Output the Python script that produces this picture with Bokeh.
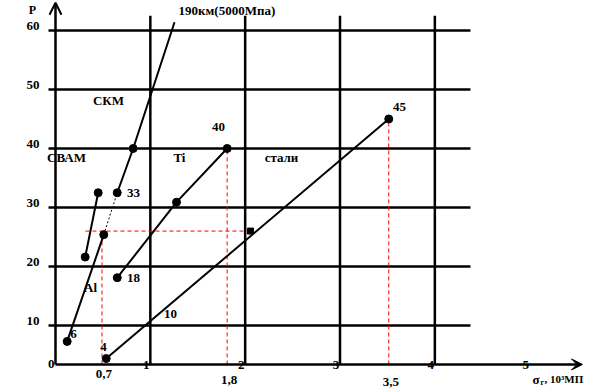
from bokeh.plotting import figure
from bokeh.models import Range1d, Arrow, VeeHead, OpenHead
from bokeh.embed import file_html
from bokeh.resources import INLINE
from bokeh.core.properties import value

# ---------------- data ----------------
y_ticks = [10, 20, 30, 40, 50, 60]
y_tick_labels = ["10", "20", "30", "40", "50", "60"]
x_ticks = [1, 2, 3, 4, 5]
x_tick_labels = ["1", "2", "3", "4", "5"]
origin_label = "0"
x_axis_level = 3.4          # P level where the σ axis is drawn (labelled "0")
grid_x_ticks = [1, 2, 3, 4]

# material lines (x = σ, 10^3 MPa ; y = P)
ckm_x = [0.651, 0.819, 1.255]
ckm_y = [32.5, 40.0, 61.4]
ti_x = [0.651, 1.276, 1.810]
ti_y = [18.1, 30.9, 40.0]
steel_x = [0.535, 3.514]
steel_y = [4.4, 45.0]
al_x = [0.123, 0.509]
al_y = [7.3, 25.4]
svam_x = [0.313, 0.450]
svam_y = [21.6, 32.5]
link_x = [0.509, 0.651]
link_y = [25.4, 32.5]
steel_mark_x = [2.056]
steel_mark_y = [26.0]

# marked points
dot_x = [0.819, 0.651, 0.651, 1.276, 1.810, 0.535, 3.514, 0.123, 0.509, 0.313, 0.450]
dot_y = [40.0, 32.5, 18.1, 30.9, 40.0, 4.4, 45.0, 7.3, 25.4, 21.6, 32.5]

# red reference lines
ref_x = [0.49, 1.81, 3.514]
ref_top = [26.0, 40.0, 45.0]
ref_labels = ["0,7", "1,8", "3,5"]
ref_label_y = [1.7, 0.7, 0.5]
href_x0 = [0.316]
href_x1 = [2.056]
href_y = [26.0]

# annotation texts
note_text = ["СКМ", "СВАМ", "Ti", "стали", "40", "45", "33", "18", "Al", "6", "10", "4"]
note_x = [0.559, 0.116, 1.307, 2.383, 1.719, 3.627, 0.822, 0.822, 0.369, 0.190, 1.213, 0.506]
note_y = [48.1, 38.5, 38.5, 38.5, 43.7, 47.0, 32.5, 18.1, 16.4, 8.5, 11.9, 6.4]
curve_label = "190км(5000Мпа)"
curve_label_x = 1.297
curve_label_y = 63.4
y_title = "P"
x_title_main = "σ"
x_title_sub = "г"
x_title_rest = ", 10³МП"

FONT = value("'Liberation Serif', 'Times New Roman', 'DejaVu Serif', serif")

p = figure(width=593, height=389, output_backend="svg", toolbar_location=None,
           x_range=Range1d(-0.580, 5.673), y_range=Range1d(-0.847, 65.08),
           min_border=0, outline_line_color=None)
p.axis.visible = False
p.grid.visible = False
p.background_fill_color = "white"
p.border_fill_color = "white"

# grid (drawn as schematic lines)
p.segment(x0=[-0.074] * len(y_ticks), x1=[4.376] * len(y_ticks), y0=y_ticks, y1=y_ticks,
          line_color="black", line_width=2.5)
p.segment(x0=grid_x_ticks, x1=grid_x_ticks, y0=[x_axis_level] * len(grid_x_ticks),
          y1=[62.5] * len(grid_x_ticks), line_color="black", line_width=2.5)

# axes with arrows
p.add_layout(Arrow(end=VeeHead(size=11, fill_color="black", line_color="black", line_width=1),
                   x_start=0, y_start=x_axis_level, x_end=5.557, y_end=x_axis_level,
                   line_color="black", line_width=2.5))
p.add_layout(Arrow(end=OpenHead(size=12, line_color="black", line_width=2),
                   x_start=0, y_start=x_axis_level, x_end=0, y_end=64.7,
                   line_color="black", line_width=2.5))

# red reference dashed lines
p.segment(x0=ref_x, x1=ref_x, y0=[x_axis_level] * len(ref_x), y1=ref_top,
          line_color="red", line_width=1, line_dash="4 3")
p.segment(x0=href_x0, x1=href_x1, y0=href_y, y1=href_y,
          line_color="red", line_width=1, line_dash="4 3")

# material lines
for xs, ys in [(ckm_x, ckm_y), (ti_x, ti_y), (steel_x, steel_y), (al_x, al_y), (svam_x, svam_y)]:
    p.line(xs, ys, line_color="black", line_width=2)
p.line(link_x, link_y, line_color="black", line_width=1, line_dash="2 2")

p.scatter(dot_x, dot_y, size=8, fill_color="black", line_color="black")
p.scatter(steel_mark_x, steel_mark_y, marker="square", size=6, fill_color="black", line_color="black")

common = dict(text_font=FONT, text_font_style="bold", text_color="black")

# tick labels
p.text(x=[0] * len(y_ticks), y=y_ticks, text=y_tick_labels, x_offset=-16, y_offset=-4,
       text_align="right", text_baseline="middle", text_font_size="13px", **common)
p.text(x=[0], y=[x_axis_level], text=[origin_label], x_offset=-1,
       text_align="right", text_baseline="middle", text_font_size="13px", **common)
p.text(x=x_ticks, y=[x_axis_level] * len(x_ticks), text=x_tick_labels, x_offset=-4, y_offset=1,
       text_align="center", text_baseline="middle", text_font_size="13px", **common)
p.text(x=ref_x, y=ref_label_y, text=ref_labels, x_offset=2,
       text_align="center", text_baseline="middle", text_font_size="13px", **common)

# annotations
p.text(x=note_x, y=note_y, text=note_text, text_align="center", text_baseline="middle",
       text_font_size="13px", **common)
p.text(x=[curve_label_x], y=[curve_label_y], text=[curve_label], text_align="left",
       text_baseline="middle", text_font_size="13px", **common)
p.text(x=[-0.243], y=[63.5], text=[y_title], text_align="center", text_baseline="middle",
       text_font_size="12px", **common)
p.text(x=[5.030], y=[0.85], text=[x_title_main], text_align="left", text_baseline="middle",
       text_font_size="13px", **common)
p.text(x=[5.114], y=[0.35], text=[x_title_sub], text_align="left", text_baseline="middle",
       text_font_size="8px", **common)
p.text(x=[5.156], y=[0.85], text=[x_title_rest], text_align="left", text_baseline="middle",
       text_font_size="11px", **common)

open("out.html", "w").write(file_html(p, INLINE))
